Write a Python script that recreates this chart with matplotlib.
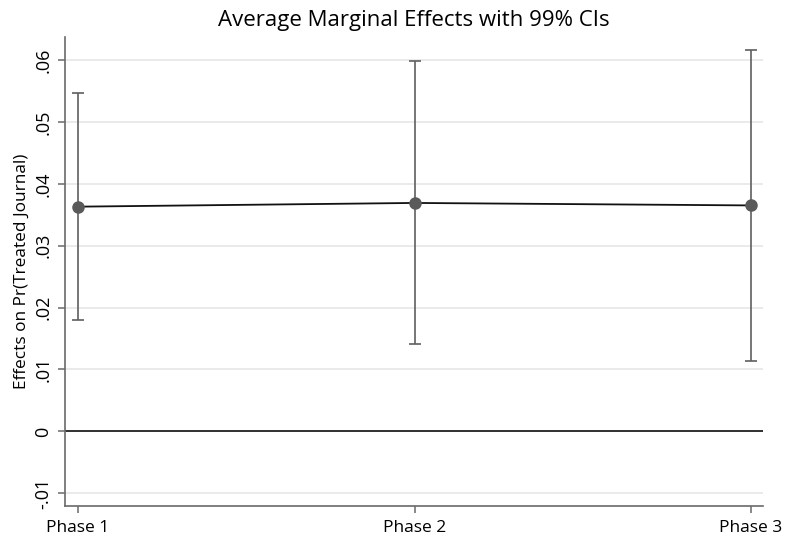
import matplotlib
matplotlib.use("Agg")
import matplotlib.pyplot as plt
import numpy as np

plt.rcParams["font.family"] = ["Open Sans", "DejaVu Sans"]

# Average marginal effects by phase, with 99% confidence bounds
phases = ["Phase 1", "Phase 2", "Phase 3"]
effects = [0.0363, 0.0369, 0.0365]
ci_lower = [0.0180, 0.0141, 0.0114]
ci_upper = [0.0547, 0.0599, 0.0616]
y_ticks = [-0.01, 0.0, 0.01, 0.02, 0.03, 0.04, 0.05, 0.06]
y_tick_labels = ["-.01", "0", ".01", ".02", ".03", ".04", ".05", ".06"]

x = np.arange(1, len(phases) + 1)
eff = np.array(effects)
lo = np.array(ci_lower)
hi = np.array(ci_upper)

fig = plt.figure(figsize=(7.85, 5.42), dpi=100)
ax = fig.add_axes([0.0828, 0.0664, 0.8892, 0.8653])

for y in y_ticks:
    ax.axhline(y, color="#e6e6e6", lw=1.2, zorder=0)
ax.axhline(0, color="#111111", lw=1.2, zorder=1)

ax.errorbar(x, eff, yerr=[eff - lo, hi - eff], fmt="none",
            ecolor="#5f5f5f", elinewidth=1.2, capsize=4, capthick=1.2, zorder=2)
ax.plot(x, eff, color="#111111", lw=1.3, zorder=3)
ax.plot(x, eff, "o", color="#5a5a5a", markersize=8, zorder=4)

ax.set_xlim(0.961, 3.036)
ax.set_ylim(-0.01205, 0.0637)
ax.set_xticks(x)
ax.set_xticklabels(phases, fontsize=12.5)
ax.set_yticks(y_ticks)
ax.set_yticklabels(y_tick_labels, fontsize=13, rotation=90, va="center")
ax.set_ylabel("Effects on Pr(Treated Journal)", fontsize=12.4, labelpad=3)
ax.set_title("Average Marginal Effects with 99% CIs", fontsize=16, pad=8)

for side in ["top", "right"]:
    ax.spines[side].set_visible(False)
for side in ["left", "bottom"]:
    ax.spines[side].set_color("#6a6a6a")
    ax.spines[side].set_linewidth(1.2)
ax.tick_params(axis="both", color="#6a6a6a", length=5, width=1.1)
ax.tick_params(axis="x", pad=5)
ax.tick_params(axis="y", pad=4)

fig.savefig("out.png", dpi=100)
plt.close(fig)
